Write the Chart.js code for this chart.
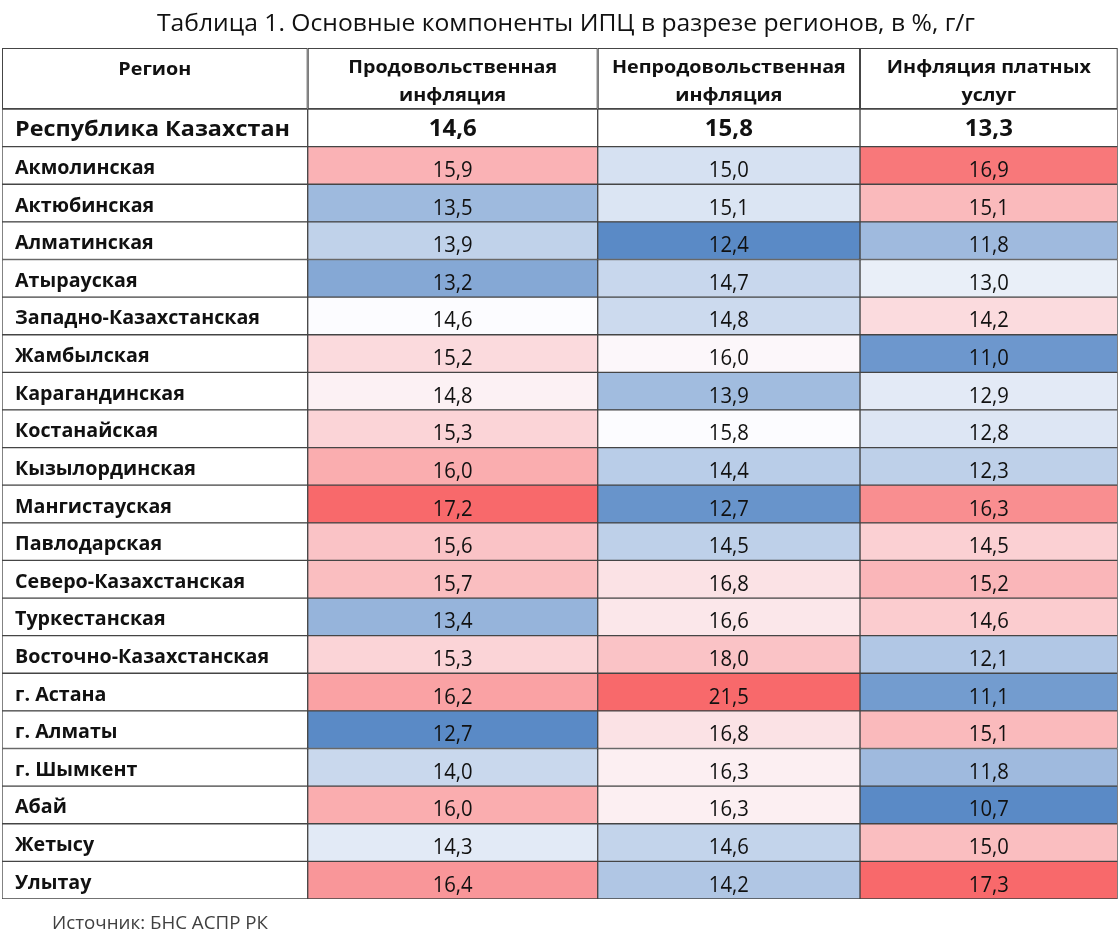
<!DOCTYPE html>
<html lang="ru">
<head>
<meta charset="utf-8">
<script src="https://cdn.jsdelivr.net/npm/chart.js@4.4.0/dist/chart.umd.min.js"></script>
<style>
  html, body { margin: 0; padding: 0; background: #fff; }
  #wrap { width: 1120px; height: 938px; }
</style>
</head>
<body>
<div id="wrap"><canvas id="chart" width="1120" height="938"></canvas></div>
<script>
const tableTitle = 'Таблица 1. Основные компоненты ИПЦ в разрезе регионов, в %, г/г'
const sourceNote = 'Источник: БНС АСПР РК'

const headerLabels = [
  ['Регион'],
  ['Продовольственная', 'инфляция'],
  ['Непродовольственная', 'инфляция'],
  ['Инфляция платных', 'услуг'],
]

const totalLabel = 'Республика Казахстан'
const kzTotal = [14.6, 15.8, 13.3]

const regions = [
  'Акмолинская', 'Актюбинская', 'Алматинская', 'Атырауская', 'Западно-Казахстанская',
  'Жамбылская', 'Карагандинская', 'Костанайская', 'Кызылординская', 'Мангистауская',
  'Павлодарская', 'Северо-Казахстанская', 'Туркестанская', 'Восточно-Казахстанская',
  'г. Астана', 'г. Алматы', 'г. Шымкент', 'Абай', 'Жетысу', 'Улытау',
]
const foodInfl = [15.9, 13.5, 13.9, 13.2, 14.6, 15.2, 14.8, 15.3, 16.0, 17.2,
                  15.6, 15.7, 13.4, 15.3, 16.2, 12.7, 14.0, 16.0, 14.3, 16.4]
const nonFoodInfl = [15.0, 15.1, 12.4, 14.7, 14.8, 16.0, 13.9, 15.8, 14.4, 12.7,
                     14.5, 16.8, 16.6, 18.0, 21.5, 16.8, 16.3, 16.3, 14.6, 14.2]
const servicesInfl = [16.9, 15.1, 11.8, 13.0, 14.2, 11.0, 12.9, 12.8, 12.3, 16.3,
                      14.5, 15.2, 14.6, 12.1, 11.1, 15.1, 11.8, 10.7, 15.0, 17.3]

const rowLabels = [totalLabel, ...regions]
const valueColumns = [foodInfl, nonFoodInfl, servicesInfl]

// column boundaries on the x scale (layout only)
const colEdges = [0, 305.7, 595.7, 858, 1115.7]

const FONT = '"Open Sans", "Noto Sans", sans-serif'
const LOW = [90, 138, 198], MID = [252, 252, 255], HIGH = [248, 105, 107]

// excel-like 3 colour scale, midpoint = country value
function heat(v, lo, mid, hi){
  let a, b, t
  if (v <= mid){ a = LOW; b = MID; t = (v - lo) / (mid - lo) }
  else { a = MID; b = HIGH; t = (v - mid) / (hi - mid) }
  t = Math.max(0, Math.min(1, t))
  const c = a.map((x, i) => Math.round(x + (b[i] - x) * t))
  return `rgb(${c[0]},${c[1]},${c[2]})`
}

const fmt = v => v.toFixed(1).replace('.', ',')

function drawText(ctx, text, x, y, font, align, sx){
  ctx.save()
  ctx.font = font
  ctx.textAlign = align
  ctx.textBaseline = 'alphabetic'
  ctx.translate(x, y)
  ctx.scale(sx || 1, 1)
  ctx.fillText(text, 0, 0)
  ctx.restore()
}

function fitScale(ctx, font, text, width){
  ctx.save()
  ctx.font = font
  const w = ctx.measureText(text).width
  ctx.restore()
  return width / w
}

const HEADER_TOP = 48
const LINE = '#454545'
const INK = '#111111'

const tablePlugin = {
  id: 'tableText',
  afterDatasetsDraw(chart){
    const ctx = chart.ctx
    const xs = chart.scales.x
    const top = chart.chartArea.top

    // header cells
    const hdrFont = `bold 18px ${FONT}`
    const hdrScale = fitScale(ctx, hdrFont, 'Продовольственная', 209)
    for (let c = 0; c < 4; c++){
      const x0 = xs.getPixelForValue(colEdges[c])
      const x1 = xs.getPixelForValue(colEdges[c + 1])
      ctx.fillStyle = '#fff'
      ctx.fillRect(x0, HEADER_TOP, x1 - x0, top - HEADER_TOP)
      ctx.strokeStyle = LINE
      ctx.lineWidth = 1
      ctx.strokeRect(x0 + 0.5, HEADER_TOP + 0.5, x1 - x0 - 1, top - HEADER_TOP - 1)
      ctx.fillStyle = INK
      const lines = headerLabels[c]
      const cx = (x0 + x1) / 2
      if (lines.length === 1){
        drawText(ctx, lines[0], cx, 75, hdrFont, 'center', hdrScale)
      } else {
        drawText(ctx, lines[0], cx, 73, hdrFont, 'center', hdrScale)
        drawText(ctx, lines[1], cx, 101, hdrFont, 'center', hdrScale)
      }
    }

    // cell texts
    const lblFont = `bold 20px ${FONT}`
    const lblScale = fitScale(ctx, lblFont, 'Западно-Казахстанская', 245)
    const totFont = `bold 22px ${FONT}`
    const totScale = fitScale(ctx, totFont, totalLabel, 275)
    const valFont = `21px ${FONT}`
    const valScale = fitScale(ctx, valFont, '16,9', 40)
    const totValFont = `bold 23px ${FONT}`
    const totValScale = fitScale(ctx, totValFont, '14,6', 48)

    ctx.fillStyle = INK
    chart.data.datasets.forEach((ds, d) => {
      const meta = chart.getDatasetMeta(d)
      meta.data.forEach((bar, r) => {
        const p = bar.getProps(['x', 'base', 'y'], true)
        const left = Math.min(p.x, p.base)
        const right = Math.max(p.x, p.base)
        if (d === 0){
          if (r === 0) drawText(ctx, rowLabels[r], left + 13, p.y + 8.5, totFont, 'left', totScale)
          else drawText(ctx, rowLabels[r], left + 13, p.y + 8.5, lblFont, 'left', lblScale)
        } else {
          const v = r === 0 ? kzTotal[d - 1] : valueColumns[d - 1][r - 1]
          if (r === 0) drawText(ctx, fmt(v), (left + right) / 2, p.y + 8.5, totValFont, 'center', totValScale)
          else drawText(ctx, fmt(v), (left + right) / 2, p.y + 11.5, valFont, 'center', valScale)
        }
      })
    })
  },
  afterDraw(chart){
    const ctx = chart.ctx
    const tFont = `24.5px ${FONT}`
    ctx.fillStyle = INK
    drawText(ctx, tableTitle, 566, 31, tFont, 'center', fitScale(ctx, tFont, tableTitle, 818))
    ctx.fillStyle = '#404040'
    const sFont = `18px ${FONT}`
    drawText(ctx, sourceNote, 52, 929, sFont, 'left', fitScale(ctx, sFont, sourceNote, 216))
  }
}

const cellOpts = {
  grouped: false,
  barPercentage: 1,
  categoryPercentage: 1,
  borderWidth: 1,
  borderColor: LINE,
  borderSkipped: false,
}

new Chart(document.getElementById('chart'), {
  type: 'bar',
  data: {
    labels: rowLabels,
    datasets: [
      {
        ...cellOpts,
        label: headerLabels[0][0],
        data: rowLabels.map(() => [colEdges[0], colEdges[1]]),
        backgroundColor: '#ffffff',
      },
      ...valueColumns.map((vals, c) => {
        const lo = Math.min(...vals), hi = Math.max(...vals)
        return {
          ...cellOpts,
          label: headerLabels[c + 1].join(' '),
          data: rowLabels.map(() => [colEdges[c + 1], colEdges[c + 2]]),
          backgroundColor: ['#ffffff', ...vals.map(v => heat(v, lo, kzTotal[c], hi))],
        }
      }),
    ],
  },
  options: {
    indexAxis: 'y',
    responsive: false,
    animation: false,
    devicePixelRatio: 1,
    layout: { padding: { top: 109, bottom: 39, left: 2, right: 2.3 } },
    scales: {
      x: { type: 'linear', min: colEdges[0], max: colEdges[4], display: false },
      y: { type: 'category', display: false, offset: true },
    },
    plugins: {
      legend: { display: false },
      tooltip: { enabled: false },
    },
  },
  plugins: [tablePlugin],
})
</script>
</body>
</html>
